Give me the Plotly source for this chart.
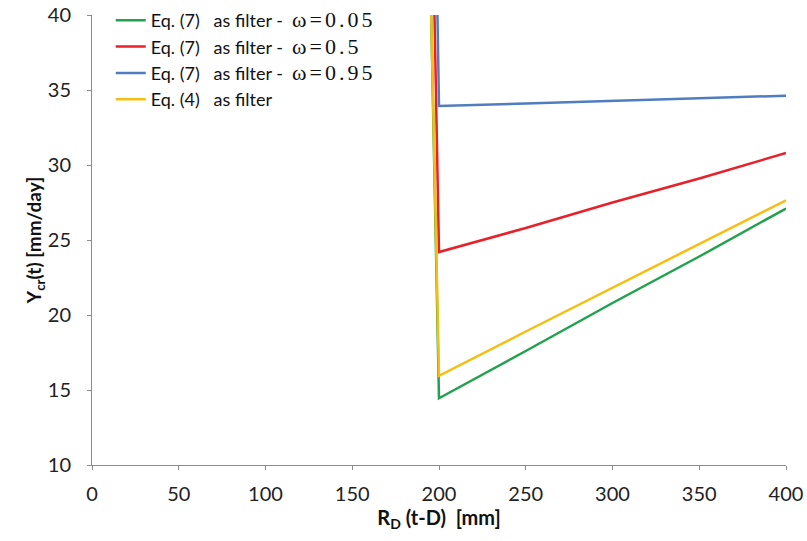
import plotly.graph_objects as go

x_vals = [190, 200, 250, 300, 350, 400]
green_w005 = [71.0, 14.45, 17.6, 20.8, 23.9, 27.1]
red_w05 = [85.0, 24.2, 25.8, 27.5, 29.1, 30.8]
blue_w095 = [102.0, 33.93, 34.1, 34.3, 34.45, 34.62]
yellow_eq4 = [69.5, 15.95, 18.9, 21.8, 24.7, 27.65]

NB = "\u00a0"
OM = ('<span style="font-family:\'Liberation Serif\';font-size:22px;'
      'letter-spacing:3px">ω=%s</span>')
names = [
    "Eq." + NB + "(7)" + NB * 3 + "as filter -" + NB * 2 + OM % "0.05",
    "Eq." + NB + "(7)" + NB * 3 + "as filter -" + NB * 2 + OM % "0.5",
    "Eq." + NB + "(7)" + NB * 3 + "as filter -" + NB * 2 + OM % "0.95",
    "Eq." + NB + "(4)" + NB * 3 + "as filter",
]
series = [green_w005, red_w05, blue_w095, yellow_eq4]
colors = ["#22A24E", "#E8202A", "#4F7DC0", "#F5BE12"]

x_ticks = [0, 50, 100, 150, 200, 250, 300, 350, 400]
y_ticks = [10, 15, 20, 25, 30, 35, 40]

fig = go.Figure()
for nm, ys, c in zip(names, series, colors):
    fig.add_trace(go.Scatter(x=x_vals, y=ys, mode="lines", name=nm,
                             line=dict(color=c, width=2.5)))

axis_common = dict(showgrid=False, zeroline=False, showline=True,
                   linecolor="#8c8c8c", linewidth=1, ticks="outside",
                   tickcolor="#8c8c8c", ticklen=4, automargin=False,
                   tickfont=dict(family="Lato", size=20, color="#222"))

fig.update_layout(
    width=807, height=541,
    margin=dict(l=92, r=21, t=15, b=76, autoexpand=False),
    paper_bgcolor="white", plot_bgcolor="white",
    font=dict(family="Lato", size=18, color="#111"),
    showlegend=True,
    legend=dict(x=0.027, y=1.029, xanchor="left", yanchor="top",
                bgcolor="rgba(0,0,0,0)", font=dict(family="Lato", size=18, color="#111"),
                tracegroupgap=0),
    xaxis=dict(range=[0, 400], tickvals=x_ticks, ticklabelstandoff=7, **axis_common,
               title=dict(text="<b>R<sub>D</sub> (t-D)" + NB * 2 + "[mm]</b>",
                          font=dict(family="Lato", size=20), standoff=6)),
    yaxis=dict(range=[10, 40], tickvals=y_ticks, ticklabelstandoff=12, **axis_common,
               title=dict(text="<b>Y<sub>cr</sub>(t) [mm/day]</b>",
                          font=dict(family="Lato", size=19), standoff=0)),
)

fig.write_html("out.html")
